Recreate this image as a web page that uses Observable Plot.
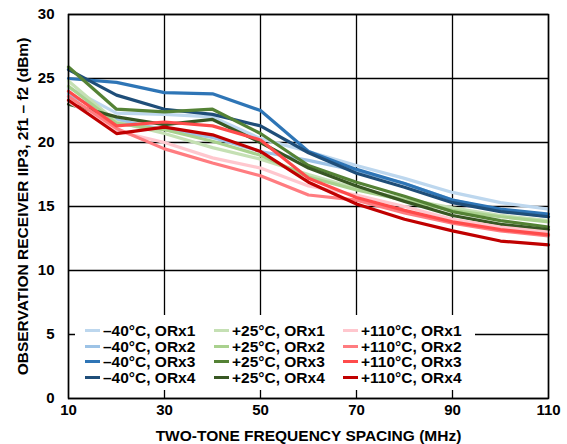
<!DOCTYPE html>
<html><head><meta charset="utf-8">
<script src="https://cdn.jsdelivr.net/npm/d3@7"></script>
<script src="https://cdn.jsdelivr.net/npm/@observablehq/plot@0.6"></script>
<style>
body{margin:0;background:#fff;font-family:"Liberation Sans",Arial,sans-serif;}
#wrap{position:relative;width:567px;height:444px;}
#legend{position:absolute;left:75px;top:315px;width:400px;height:75px;background:#fff;}
.item{position:absolute;display:flex;align-items:center;font-weight:bold;font-size:15.5px;color:#000;white-space:nowrap;line-height:15px;height:15px;}
.sw{width:15px;height:3px;margin-right:3px;}
</style></head><body><div id="wrap"><div id="legend"></div></div>
<script>
const freq = [10, 20, 30, 40, 50, 60, 70, 80, 90, 100, 110];
const xTicks = [10, 30, 50, 70, 90, 110];
const yTicks = [0, 5, 10, 15, 20, 25, 30];

const seriesNames = [
  "–40°C, ORx1", "–40°C, ORx2", "–40°C, ORx3", "–40°C, ORx4",
  "+25°C, ORx1", "+25°C, ORx2", "+25°C, ORx3", "+25°C, ORx4",
  "+110°C, ORx1", "+110°C, ORx2", "+110°C, ORx3", "+110°C, ORx4"
];
const seriesColors = [
  "#bdd7ee", "#9dc3e6", "#2e75b6", "#1f4e79",
  "#c5e0b4", "#a9d18e", "#548235", "#385723",
  "#ffc7ce", "#ff7c80", "#ff4b4b", "#c00000"
];

const m40_orx1 = [24.3, 22.3, 22.2, 22.0, 20.3, 19.3, 18.2, 17.2, 16.1, 15.3, 14.8];
const m40_orx2 = [23.8, 21.8, 21.0, 20.4, 19.3, 18.6, 17.8, 16.8, 15.5, 14.7, 14.2];
const m40_orx3 = [25.0, 24.7, 23.9, 23.8, 22.5, 19.3, 17.9, 16.8, 15.5, 14.8, 14.4];
const m40_orx4 = [25.7, 23.7, 22.6, 22.2, 21.3, 19.2, 17.6, 16.5, 15.3, 14.6, 14.2];
const p25_orx1 = [24.8, 21.6, 20.7, 19.6, 18.7, 17.5, 16.4, 15.6, 14.9, 14.3, 13.9];
const p25_orx2 = [24.4, 21.5, 21.0, 20.1, 19.0, 17.3, 16.3, 15.5, 14.7, 14.2, 13.8];
const p25_orx3 = [25.9, 22.6, 22.4, 22.6, 20.7, 18.2, 16.9, 15.8, 14.6, 13.9, 13.4];
const p25_orx4 = [23.0, 22.0, 21.4, 21.8, 20.0, 18.0, 16.6, 15.4, 14.3, 13.6, 13.2];
const p110_orx1 = [23.2, 20.9, 20.0, 18.8, 18.0, 16.6, 15.9, 15.0, 14.0, 13.4, 13.0];
const p110_orx2 = [23.6, 21.1, 19.5, 18.4, 17.4, 15.9, 15.5, 14.5, 13.7, 13.1, 12.7];
const p110_orx3 = [24.0, 21.3, 21.6, 21.3, 20.2, 17.2, 15.7, 14.7, 13.8, 13.2, 12.8];
const p110_orx4 = [23.3, 20.7, 21.2, 20.6, 19.3, 16.9, 15.2, 14.0, 13.1, 12.3, 12.0];

const seriesValues = [m40_orx1, m40_orx2, m40_orx3, m40_orx4,
  p25_orx1, p25_orx2, p25_orx3, p25_orx4,
  p110_orx1, p110_orx2, p110_orx3, p110_orx4];

const rows = [];
seriesNames.forEach((name, i) => {
  seriesValues[i].forEach((v, j) => rows.push({series: name, freq: freq[j], value: v}));
});

const font = '"Liberation Sans", Arial, sans-serif';
const chart = Plot.plot({
  width: 567, height: 444,
  marginLeft: 68, marginRight: 19, marginTop: 14, marginBottom: 46,
  style: {fontFamily: font, fontSize: "15px", fontWeight: "bold", color: "#000", background: "#fff"},
  x: {domain: [10, 110], ticks: xTicks, tickFormat: d => String(d), label: "TWO-TONE FREQUENCY SPACING (MHz)",
      labelAnchor: "center", labelArrow: "none", labelOffset: 42, tickSize: 0, tickPadding: 6},
  y: {domain: [0, 30], ticks: yTicks, tickFormat: d => String(d), label: "OBSERVATION RECEIVER IIP3, 2f1 – f2 (dBm)",
      labelAnchor: "center", labelArrow: "none", labelOffset: 52, tickSize: 0, tickPadding: 14},
  color: {domain: seriesNames, range: seriesColors},
  marks: [
    Plot.gridX(xTicks, {stroke: "#000", strokeOpacity: 1, strokeWidth: 1.3}),
    Plot.gridY(yTicks, {stroke: "#000", strokeOpacity: 1, strokeWidth: 1.3}),
    Plot.line(rows, {x: "freq", y: "value", z: "series", stroke: "series", strokeWidth: 3.2, strokeLinejoin: "miter"}),
    Plot.frame({stroke: "#000", strokeWidth: 1.5})
  ]
});
d3.select(chart).selectAll('[aria-label="x-axis label"], [aria-label="y-axis label"]').attr("font-size", 15.5);
const wrap = document.getElementById("wrap");
wrap.insertBefore(chart, wrap.firstChild);
chart.style.position = "absolute"; chart.style.left = "0"; chart.style.top = "0";

const legend = document.getElementById("legend");
const colX = [10, 139, 268];
const rowY = [8, 23.5, 39, 54.5];
seriesNames.forEach((name, i) => {
  const col = Math.floor(i / 4), row = i % 4;
  const it = document.createElement("div");
  it.className = "item";
  it.style.left = colX[col] + "px";
  it.style.top = rowY[row] + "px";
  const sw = document.createElement("span");
  sw.className = "sw"; sw.style.background = seriesColors[i];
  const tx = document.createElement("span"); tx.textContent = name;
  it.appendChild(sw); it.appendChild(tx);
  legend.appendChild(it);
});
</script>
</body></html>
